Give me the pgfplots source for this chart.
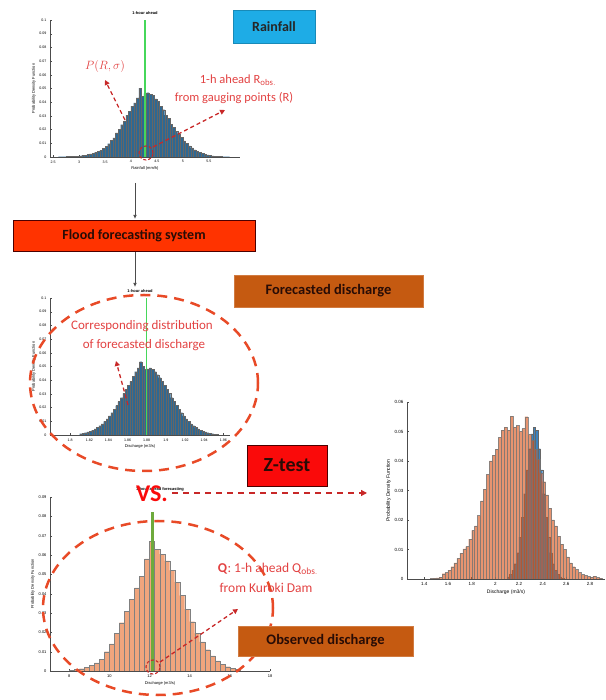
\documentclass[border=0pt]{standalone}
\usepackage{pgfplots}
\pgfplotsset{compat=1.18}
\usepackage{fontspec}
\setmainfont{Carlito}
\setsansfont{Liberation Sans}
\usetikzlibrary{arrows.meta}
\definecolor{hblue}{RGB}{46,104,146}
\definecolor{hgreen}{RGB}{70,215,90}
\definecolor{ogreen}{RGB}{110,170,60}
\definecolor{rdash}{RGB}{232,74,39}
\definecolor{rtext}{RGB}{226,66,66}
\definecolor{rarrow}{RGB}{200,40,40}
\definecolor{skyb}{RGB}{30,172,230}
\definecolor{floodred}{RGB}{255,51,0}
\definecolor{brownbox}{RGB}{197,90,17}
\definecolor{ztred}{RGB}{250,10,10}
\definecolor{orfill}{RGB}{240,165,125}
\definecolor{orright}{RGB}{217,83,25}
\definecolor{blright}{RGB}{60,130,190}
\definecolor{boxtext}{RGB}{40,12,6}
\pgfplotsset{mystyle/.style={scale only axis, axis x line*=bottom, axis y line*=left,
  tick align=inside, ymin=0, scaled ticks=false,
  /pgf/number format/assume math mode=true,
  tick label style={font=\fontsize{3.6}{4}\selectfont\sffamily},
  yticklabel style={/pgf/number format/fixed,/pgf/number format/precision=2},
  xticklabel style={/pgf/number format/fixed,/pgf/number format/precision=2},
  label style={font=\fontsize{4}{5}\selectfont\sffamily},
  title style={font=\fontsize{4}{5}\selectfont\sffamily\bfseries, yshift=-4pt},
  xlabel style={yshift=3pt}, ylabel style={yshift=-3pt},
  major tick length=1.5pt, axis line style={black!70, line width=0.3pt},
  every tick/.style={black!70, line width=0.3pt}}}
\begin{document}
\begin{tikzpicture}[x=1pt,y=1pt]
\useasboundingbox (0,0) rectangle (605,700);
% ---------- Rainfall histogram
\begin{axis}[mystyle, at={(50pt,543pt)}, anchor=south west, width=190pt, height=137pt,
  xmin=2.44, xmax=6.1, ymax=0.1, xtick={2.5,3,3.5,4,4.5,5,5.5},
  ytick={0,0.01,0.02,0.03,0.04,0.05,0.06,0.07,0.08,0.09,0.1},
  title={1-hour ahead}, xlabel={Rainfall (mm/h)}, ylabel={Probability Density Function}]
\addplot[ybar interval, fill=hblue, draw=black!60, line width=0.15pt] coordinates {
(2.60,0.0002) (2.65,0.0003) (2.70,0.0003) (2.75,0.0004) (2.80,0.0004) (2.85,0.0005)
(2.90,0.0006) (2.95,0.0007) (3.00,0.0009) (3.05,0.0011) (3.10,0.0014) (3.15,0.0018)
(3.20,0.0022) (3.25,0.0028) (3.30,0.0035) (3.35,0.0042) (3.40,0.0051) (3.45,0.0062)
(3.50,0.0078) (3.55,0.0097) (3.60,0.0121) (3.65,0.0140) (3.70,0.0176) (3.75,0.0203)
(3.80,0.0236) (3.85,0.0262) (3.90,0.0305) (3.95,0.0332) (4.00,0.0371) (4.05,0.0395)
(4.10,0.0432) (4.15,0.0502) (4.20,0.0445) (4.25,0.0465) (4.30,0.0470) (4.35,0.0458)
(4.40,0.0450) (4.45,0.0425) (4.50,0.0405) (4.55,0.0368) (4.60,0.0345) (4.65,0.0305)
(4.70,0.0282) (4.75,0.0240) (4.80,0.0218) (4.85,0.0186) (4.90,0.0170) (4.95,0.0143)
(5.00,0.0118) (5.05,0.0098) (5.10,0.0082) (5.15,0.0066) (5.20,0.0052) (5.25,0.0042)
(5.30,0.0034) (5.35,0.0027) (5.40,0.0021) (5.45,0.0016) (5.50,0.0012) (5.55,0.0009)
(5.60,0.0007) (5.65,0.0005) (5.70,0.0004) (5.75,0.0003) (5.80,0.0002) (5.85,0.0002)
(5.90,0)};
\addplot[color=hgreen, solid, line width=1.1pt, mark=none] coordinates {(4.27,0) (4.27,0.1)};
\end{axis}
% ---------- Forecasted histogram
\begin{axis}[mystyle, at={(50pt,265pt)}, anchor=south west, width=180pt, height=137pt,
  xmin=1.779, xmax=1.967, ymax=0.1,
  xtick={1.8,1.82,1.84,1.86,1.88,1.9,1.92,1.94,1.96},
  ytick={0,0.01,0.02,0.03,0.04,0.05,0.06,0.07,0.08,0.09,0.1},
  title={1-hour ahead}, xlabel={Discharge (m3/s)}, ylabel={Probability Density Function}]
\addplot[ybar interval, fill=hblue, draw=black!60, line width=0.15pt] coordinates {
(1.8100,0.0010) (1.8125,0.0013) (1.8150,0.0017) (1.8175,0.0022) (1.8200,0.0028)
(1.8225,0.0036) (1.8250,0.0045) (1.8275,0.0055) (1.8300,0.0068) (1.8325,0.0082)
(1.8350,0.0099) (1.8375,0.0118) (1.8400,0.0139) (1.8425,0.0163) (1.8450,0.0188)
(1.8475,0.0215) (1.8500,0.0244) (1.8525,0.0273) (1.8550,0.0304) (1.8575,0.0334)
(1.8600,0.0363) (1.8625,0.0392) (1.8650,0.0430) (1.8675,0.0462) (1.8700,0.0490)
(1.8725,0.0535) (1.8750,0.0500) (1.8775,0.0480) (1.8800,0.0482) (1.8825,0.0490)
(1.8850,0.0478) (1.8875,0.0462) (1.8900,0.0441) (1.8925,0.0418) (1.8950,0.0392)
(1.8975,0.0363) (1.9000,0.0334) (1.9025,0.0304) (1.9050,0.0273) (1.9075,0.0244)
(1.9100,0.0215) (1.9125,0.0188) (1.9150,0.0163) (1.9175,0.0139) (1.9200,0.0118)
(1.9225,0.0099) (1.9250,0.0082) (1.9275,0.0068) (1.9300,0.0055) (1.9325,0.0045)
(1.9350,0.0036) (1.9375,0.0028) (1.9400,0.0022) (1.9425,0.0017) (1.9450,0.0013)
(1.9475,0.0010) (1.9500,0.0007) (1.9525,0.0005) (1.9550,0)};
\addplot[color=hgreen, solid, line width=1.4pt, mark=none] coordinates {(1.8795,0) (1.8795,0.1)};
\end{axis}
% ---------- Observed histogram
\begin{axis}[mystyle, at={(50pt,29pt)}, anchor=south west, width=220pt, height=174pt,
  xmin=7.04, xmax=18, ymax=0.09, xtick={8,10,12,14,16,18},
  ytick={0,0.01,0.02,0.03,0.04,0.05,0.06,0.07,0.08,0.09},
  tick label style={font=\fontsize{4}{5}\selectfont\sffamily},
  title={1-hour ahead forecasting}, xlabel={Discharge (m3/s)}, ylabel={Probability Density Function}]
\addplot[ybar interval, fill=orfill, draw=black!50, line width=0.2pt] coordinates {
(8.00,0.0005) (8.25,0.0008) (8.50,0.0012) (8.75,0.0018) (9.00,0.0028) (9.25,0.0042)
(9.50,0.0062) (9.75,0.0100) (10.00,0.0140) (10.25,0.0195) (10.50,0.0250) (10.75,0.0310)
(11.00,0.0370) (11.25,0.0430) (11.50,0.0490) (11.75,0.0580) (12.00,0.0670) (12.25,0.0630)
(12.50,0.0605) (12.75,0.0570) (13.00,0.0520) (13.25,0.0460) (13.50,0.0390) (13.75,0.0320)
(14.00,0.0255) (14.25,0.0195) (14.50,0.0150) (14.75,0.0110) (15.00,0.0078) (15.25,0.0052)
(15.50,0.0035) (15.75,0.0022) (16.00,0.0014) (16.25,0.0008) (16.50,0)};
\addplot[color=ogreen, solid, line width=3.5pt, mark=none] coordinates {(12.15,0) (12.15,0.082)};
\end{axis}
% ---------- Right comparison histogram
\begin{axis}[mystyle, at={(407pt,121pt)}, anchor=south west, width=198pt, height=177pt,
  xmin=1.254, xmax=2.927, ymax=0.06, xtick={1.4,1.6,1.8,2,2.2,2.4,2.6,2.8},
  ytick={0,0.01,0.02,0.03,0.04,0.05,0.06},
  tick label style={font=\fontsize{4.5}{5}\selectfont\sffamily},
  label style={font=\fontsize{5}{6}\selectfont\sffamily},
  xlabel={Discharge (m3/s)}, ylabel={Probability Density Function}]
\addplot[ybar interval, fill=blright, draw=black!60, line width=0.2pt] coordinates {
(2.10,0.0007) (2.12,0.0015) (2.14,0.0029) (2.16,0.0052) (2.18,0.0089) (2.20,0.0142)
(2.22,0.0210) (2.24,0.0289) (2.26,0.0370) (2.28,0.0442) (2.30,0.0492) (2.32,0.0515)
(2.34,0.0505) (2.36,0.0442) (2.38,0.0370) (2.40,0.0289) (2.42,0.0210) (2.44,0.0142)
(2.46,0.0089) (2.48,0.0052) (2.50,0.0029) (2.52,0.0015) (2.54,0.0007) (2.56,0.0003)
(2.58,0)};
\addplot[ybar interval, fill=orright, fill opacity=0.62, draw=black!55, draw opacity=0.8, line width=0.2pt] coordinates {
(1.450,0.0002) (1.475,0.0003) (1.500,0.0004) (1.525,0.0006) (1.550,0.0018) (1.575,0.0022)
(1.600,0.0030) (1.625,0.0042) (1.650,0.0055) (1.675,0.0070) (1.700,0.0088) (1.725,0.0102)
(1.750,0.0110) (1.775,0.0135) (1.800,0.0165) (1.825,0.0180) (1.850,0.0215) (1.875,0.0265)
(1.900,0.0305) (1.925,0.0355) (1.950,0.0400) (1.975,0.0420) (2.000,0.0440) (2.025,0.0480)
(2.050,0.0505) (2.075,0.0515) (2.100,0.0505) (2.125,0.0552) (2.150,0.0515) (2.175,0.0520)
(2.200,0.0500) (2.225,0.0510) (2.250,0.0550) (2.275,0.0490) (2.300,0.0470) (2.325,0.0440)
(2.350,0.0405) (2.375,0.0360) (2.400,0.0330) (2.425,0.0285) (2.450,0.0240) (2.475,0.0200)
(2.500,0.0180) (2.525,0.0145) (2.550,0.0118) (2.575,0.0100) (2.600,0.0075) (2.625,0.0055)
(2.650,0.0042) (2.675,0.0032) (2.700,0.0022) (2.725,0.0015) (2.750,0.0012) (2.775,0.0009)
(2.800,0.0006) (2.825,0.0010) (2.850,0.0005) (2.875,0.0003) (2.900,0)};
\end{axis}
% ---------- black flow arrows
\draw[black!70, line width=0.7pt, -{Latex[length=4pt,width=3.5pt]}] (135,517) -- (135,481);
\draw[black!70, line width=0.7pt, -{Latex[length=4pt,width=3.5pt]}] (135,449) -- (135,413);
% ---------- red annotations (rainfall)
\node[text=rtext, font=\fontsize{12.5}{13}\selectfont] at (105,633) {$P(R,\sigma)$};
\node[text=rtext, font=\fontsize{12.5}{13}\selectfont] at (238,620) {1-h ahead R$_{\mathrm{obs.}}$};
\node[text=rtext, font=\fontsize{12.5}{13}\selectfont] at (234,602) {from gauging points (R)};
\draw[rarrow, line width=1.3pt, dash pattern=on 4pt off 3pt, -{Triangle[length=5pt,width=5pt]}] (125,580) -- (105,620);
\draw[rarrow, line width=1.1pt, dash pattern=on 3pt off 2pt] (146,547) circle (7);
\draw[rarrow, line width=1.3pt, dash pattern=on 4pt off 3pt, -{Triangle[length=5pt,width=5pt]}] (153,553) -- (225,590);
% ---------- forecasted annotations
\draw[rdash, line width=2.5pt, dash pattern=on 10pt off 7pt] (144,317) ellipse (114 and 88);
\node[text=rtext, font=\fontsize{13}{13}\selectfont] at (142,374) {Corresponding distribution};
\node[text=rtext, font=\fontsize{13}{13}\selectfont] at (144,355) {of forecasted discharge};
\draw[rarrow, line width=1.3pt, dash pattern=on 4pt off 3pt, -{Triangle[length=5pt,width=5pt]}] (128,295) -- (116,339);
% ---------- observed annotations
\draw[rdash, line width=2.5pt, dash pattern=on 10pt off 7pt] (158,92) ellipse (115 and 87);
\draw[rarrow, line width=1.1pt, dash pattern=on 3pt off 2pt] (153,33) circle (7);
\draw[rarrow, line width=1.3pt, dash pattern=on 4pt off 3pt, -{Triangle[length=5pt,width=5pt]}] (160,38) -- (238,91);
\node[text=rtext, font=\fontsize{13.5}{14}\selectfont] at (268,131) {\textbf{Q}: 1-h ahead Q$_{\mathrm{obs.}}$};
\node[text=rtext, font=\fontsize{13.5}{14}\selectfont] at (266,112) {from Kuroki Dam};
\node[text=ztred, font=\fontsize{24}{24}\selectfont\bfseries] at (152,206) {VS.};
\draw[rarrow, line width=1.3pt, dash pattern=on 6pt off 5pt, -{Triangle[length=6pt,width=6pt]}] (172,207) -- (367,207);
% ---------- labelled boxes
\draw[fill=skyb, draw=skyb!80!black, line width=0.3pt] (233,657) rectangle (315,690);
\node[font=\fontsize{14}{14}\selectfont\bfseries, text=black!85] at (274,673.5) {Rainfall};
\draw[fill=floodred, draw=black!70!red, line width=0.6pt] (13,449) rectangle (255,480);
\node[font=\fontsize{14}{14}\selectfont\bfseries, text=boxtext] at (134,464.5) {Flood forecasting system};
\draw[fill=brownbox, draw=brownbox!80!white, line width=0.3pt] (234,393) rectangle (423,425);
\node[font=\fontsize{14.5}{15}\selectfont\bfseries, text=boxtext] at (328.5,409) {Forecasted discharge};
\draw[fill=ztred, draw=black!70!red, line width=0.6pt] (247,214) rectangle (327,255);
\node[font=\fontsize{20}{20}\selectfont\bfseries, text=boxtext] at (287,234.5) {Z-test};
\draw[fill=brownbox, draw=brownbox!80!white, line width=0.3pt] (238,44) rectangle (413,74);
\node[font=\fontsize{14.5}{15}\selectfont\bfseries, text=boxtext] at (325.5,59) {Observed discharge};
\end{tikzpicture}
\end{document}
